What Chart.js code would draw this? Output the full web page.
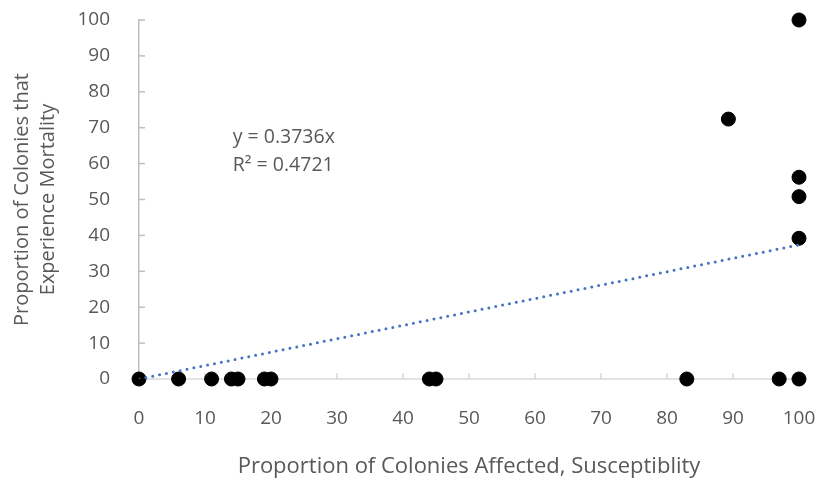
<!DOCTYPE html>
<html lang="en">
<head>
<meta charset="UTF-8" />
<title>Susceptibility vs Mortality</title>
<style>
  html, body { margin: 0; padding: 0; background: #fff; }
  #wrap { width: 817px; height: 482px; position: relative; }
</style>
</head>
<body>
<div id="wrap"><canvas id="chart"></canvas></div>

<script src="https://cdn.jsdelivr.net/npm/chart.js"></script>
<script>
// observed colonies: affected (%) vs mortality (%)
const affected  = [0, 6, 11, 14, 15, 19, 20, 44, 45, 83, 97, 100, 89.3, 100, 100, 100, 100];
const mortality = [0, 0, 0, 0, 0, 0, 0, 0, 0, 0, 0, 0, 72.4, 100, 56.2, 50.8, 39.2];

// linear trend through origin, y = 0.3736x
const trendX = [0, 100];
const trendY = [0, 37.36];
const trendLabel = ["y = 0.3736x", "R\u00B2 = 0.4721"];

const xTitle = "Proportion of Colonies Affected, Susceptiblity";
const yTitle = ["Proportion of Colonies that", "Experience Mortality"];

const textColor = "#595959";
const fontFamily = "'Open Sans', sans-serif";

// axis line at zero, small inward tick marks (under the points)
const axisMarks = {
  id: "axisMarks",
  beforeDatasetsDraw(chart) {
    const ctx = chart.ctx;
    const xs = chart.scales.x, ys = chart.scales.y;
    const y0 = ys.getPixelForValue(0);
    ctx.save();
    ctx.lineWidth = 1.5;
    ctx.strokeStyle = "#D9D9D9";
    ctx.beginPath();
    ctx.moveTo(xs.left, y0);
    ctx.lineTo(xs.right, y0);
    ctx.stroke();
    xs.ticks.forEach((t, i) => {
      const px = xs.getPixelForTick(i);
      ctx.beginPath();
      ctx.moveTo(px, y0);
      ctx.lineTo(px, y0 - 6);
      ctx.stroke();
    });
    ctx.strokeStyle = "#BFBFBF";
    ys.ticks.forEach((t, i) => {
      const py = ys.getPixelForTick(i);
      ctx.beginPath();
      ctx.moveTo(xs.left, py);
      ctx.lineTo(xs.left + 6, py);
      ctx.stroke();
    });
    ctx.restore();
  },
  afterDraw(chart) {
    const ctx = chart.ctx;
    const xs = chart.scales.x, ys = chart.scales.y;
    ctx.save();
    ctx.fillStyle = textColor;
    ctx.font = "19.5px " + fontFamily;
    ctx.textBaseline = "middle";
    ctx.textAlign = "left";
    const lx = xs.getPixelForValue(14.2);
    const ly = ys.getPixelForValue(67.4);
    trendLabel.forEach((s, i) => ctx.fillText(s, lx, ly + i * 28));
    ctx.restore();
  }
};

new Chart(document.getElementById("chart"), {
  type: "scatter",
  data: {
    datasets: [
      {
        type: "line",
        label: "Linear trend",
        data: trendX.map((x, i) => ({ x: x, y: trendY[i] })),
        borderColor: "#4472C4",
        borderWidth: 3,
        borderDash: [0, 7],
        borderCapStyle: "round",
        pointRadius: 0,
        fill: false,
        order: 0
      },
      {
        label: "Colonies",
        data: affected.map((x, i) => ({ x: x, y: mortality[i] })),
        backgroundColor: "#000",
        borderColor: "#000",
        pointRadius: 7,
        pointHoverRadius: 7,
        clip: false,
        order: 1
      }
    ]
  },
  options: {
    responsive: true,
    maintainAspectRatio: false,
    animation: false,
    layout: { padding: { top: 20, right: 18, left: 0, bottom: 0 } },
    plugins: { legend: { display: false }, tooltip: { enabled: false } },
    scales: {
      x: {
        type: "linear",
        min: 0, max: 100,
        grid: { display: false },
        border: { display: false },
        ticks: { stepSize: 10, color: textColor, padding: 20, font: { family: fontFamily, size: 19 } },
        title: {
          display: true, text: xTitle, color: textColor,
          font: { family: fontFamily, size: 22, lineHeight: 1.2 },
          padding: { top: 0, bottom: 2 }
        },
        afterFit: s => { s.height = 103; s.paddingLeft = 0; s.paddingRight = 0; }
      },
      y: {
        min: 0, max: 100,
        grid: { display: false },
        border: { display: true, color: "#BFBFBF", width: 1.5 },
        ticks: { stepSize: 10, color: textColor, padding: 21, font: { family: fontFamily, size: 19 } },
        title: {
          display: true, text: yTitle, color: textColor,
          font: { family: fontFamily, size: 20, lineHeight: 1.3 },
          padding: { top: 9, bottom: 0 }
        },
        afterFit: s => { s.width = 139; s.paddingTop = 0; s.paddingBottom = 0; }
      }
    }
  },
  plugins: [axisMarks]
});
</script>
</body>
</html>
